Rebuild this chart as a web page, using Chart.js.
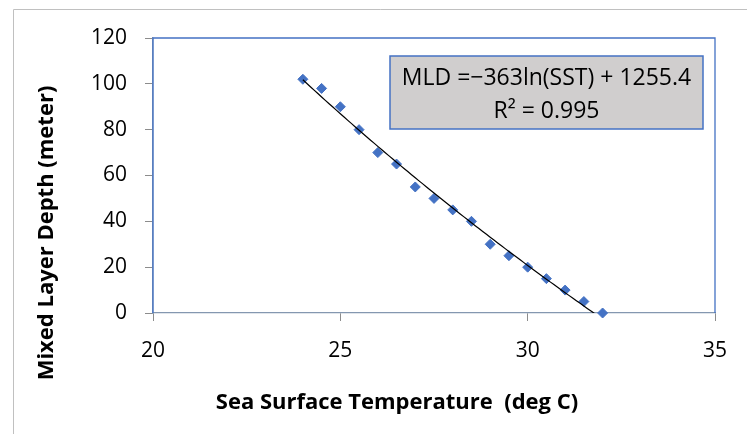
<!DOCTYPE html>
<html>
<head>
<meta charset="utf-8">
<script src="https://cdn.jsdelivr.net/npm/chart.js@4/dist/chart.umd.min.js"></script>
<style>
  html, body { margin: 0; padding: 0; background: #fff; }
  #mldChart { display: block; }
</style>
</head>
<body>
<canvas id="mldChart" width="747" height="434"></canvas>
<script>
// sea surface temperature (deg C) and mixed layer depth (m)
const sstValues = [24, 24.5, 25, 25.5, 26, 26.5, 27, 27.5, 28, 28.5, 29, 29.5, 30, 30.5, 31, 31.5, 32];
const mldValues = [102, 98, 90, 80, 70, 65, 55, 50, 45, 40, 30, 25, 20, 15, 10, 5, 0];

// logarithmic trendline: MLD = a*ln(SST) + b
const trendSlope = -363;
const trendIntercept = 1255.4;
const trendR2 = 0.995;

const xTicks = [20, 25, 30, 35];
const yTicks = [0, 20, 40, 60, 80, 100, 120];

const scatterPoints = sstValues.map((x, i) => ({ x: x, y: mldValues[i] }));

// trend curve sampled over the data range
const trendPoints = [];
for (let x = sstValues[0]; x <= sstValues[sstValues.length - 1] + 1e-9; x += 0.1) {
  trendPoints.push({ x: x, y: trendSlope * Math.log(x) + trendIntercept });
}

const labelFont = "'Open Sans', 'Liberation Sans', sans-serif";

// frame, plot border, axis titles and equation box
const decorations = {
  id: 'decorations',
  beforeDraw(chart) {
    const ctx = chart.ctx;
    ctx.save();
    ctx.strokeStyle = '#c0c0c0';
    ctx.lineWidth = 1;
    ctx.beginPath();
    ctx.moveTo(13.5, chart.height);
    ctx.lineTo(13.5, 9.5);
    ctx.lineTo(chart.width, 9.5);
    ctx.stroke();
    ctx.restore();
  },
  beforeDatasetsDraw(chart) {
    const { ctx, chartArea: a } = chart;
    ctx.save();
    ctx.strokeStyle = '#4472c4';
    ctx.lineWidth = 1.3;
    ctx.beginPath();
    ctx.moveTo(a.left, a.bottom);
    ctx.lineTo(a.left, a.top);
    ctx.lineTo(a.right, a.top);
    ctx.lineTo(a.right, a.bottom);
    ctx.stroke();
    ctx.restore();
  },
  afterDraw(chart) {
    const { ctx, chartArea: a } = chart;
    ctx.save();
    ctx.fillStyle = '#000';
    ctx.textAlign = 'center';
    ctx.textBaseline = 'middle';
    ctx.font = "bold 22px " + labelFont;
    ctx.fillText('Sea Surface Temperature  (deg C)', a.left + 244, a.bottom + 90);

    ctx.translate(47, a.top + 195);
    ctx.rotate(-Math.PI / 2);
    ctx.fillText('Mixed Layer Depth (meter)', 0, 0);
    ctx.restore();

    // equation box
    const bx = a.left + 237, by = a.top + 18, bw = 313, bh = 73;
    ctx.save();
    ctx.fillStyle = '#d0cece';
    ctx.fillRect(bx, by, bw, bh);
    ctx.strokeStyle = '#4472c4';
    ctx.lineWidth = 1.5;
    ctx.strokeRect(bx, by, bw, bh);
    ctx.fillStyle = '#000';
    ctx.textAlign = 'center';
    ctx.textBaseline = 'middle';
    ctx.font = "23px " + labelFont;
    const eq = 'MLD =\u2212' + Math.abs(trendSlope) + 'ln(SST) + ' + trendIntercept;
    ctx.fillText(eq, bx + bw / 2, by + 22);
    ctx.fillText('R\u00b2 = ' + trendR2, bx + bw / 2, by + 55);
    ctx.restore();
  }
};

const ctx = document.getElementById('mldChart');

new Chart(ctx, {
  type: 'scatter',
  data: {
    datasets: [
      {
        label: 'trend',
        data: trendPoints,
        showLine: true,
        borderColor: '#000',
        borderWidth: 1.2,
        pointRadius: 0,
        fill: false
      },
      {
        label: 'MLD',
        data: scatterPoints,
        pointStyle: 'rectRot',
        pointRadius: 5,
        pointBackgroundColor: '#4472c4',
        pointBorderColor: '#4472c4',
        pointBorderWidth: 1,
        clip: false
      }
    ]
  },
  options: {
    responsive: false,
    animation: false,
    layout: { padding: { left: 0, top: 38, right: 32, bottom: 0 } },
    plugins: {
      legend: { display: false },
      tooltip: { enabled: false }
    },
    scales: {
      x: {
        type: 'linear',
        min: 20,
        max: 35,
        afterFit(scale) { scale.height = 121; },
        afterBuildTicks(scale) { scale.ticks = xTicks.map(v => ({ value: v })); },
        ticks: {
          padding: 17,
          color: '#000',
          font: { family: labelFont, size: 21 }
        },
        grid: { drawOnChartArea: false, drawTicks: true, tickLength: 8, color: '#8c8c8c' },
        border: { display: true, color: '#8497b0', width: 1.3 }
      },
      y: {
        min: 0,
        max: 120,
        afterFit(scale) { scale.width = 153; },
        afterBuildTicks(scale) { scale.ticks = yTicks.map(v => ({ value: v })); },
        ticks: {
          padding: 18,
          color: '#000',
          font: { family: labelFont, size: 21 }
        },
        grid: { drawOnChartArea: false, drawTicks: true, tickLength: 8, color: '#8c8c8c' },
        border: { display: true, color: '#8497b0', width: 1.3 }
      }
    }
  },
  plugins: [decorations]
});
</script>
</body>
</html>
